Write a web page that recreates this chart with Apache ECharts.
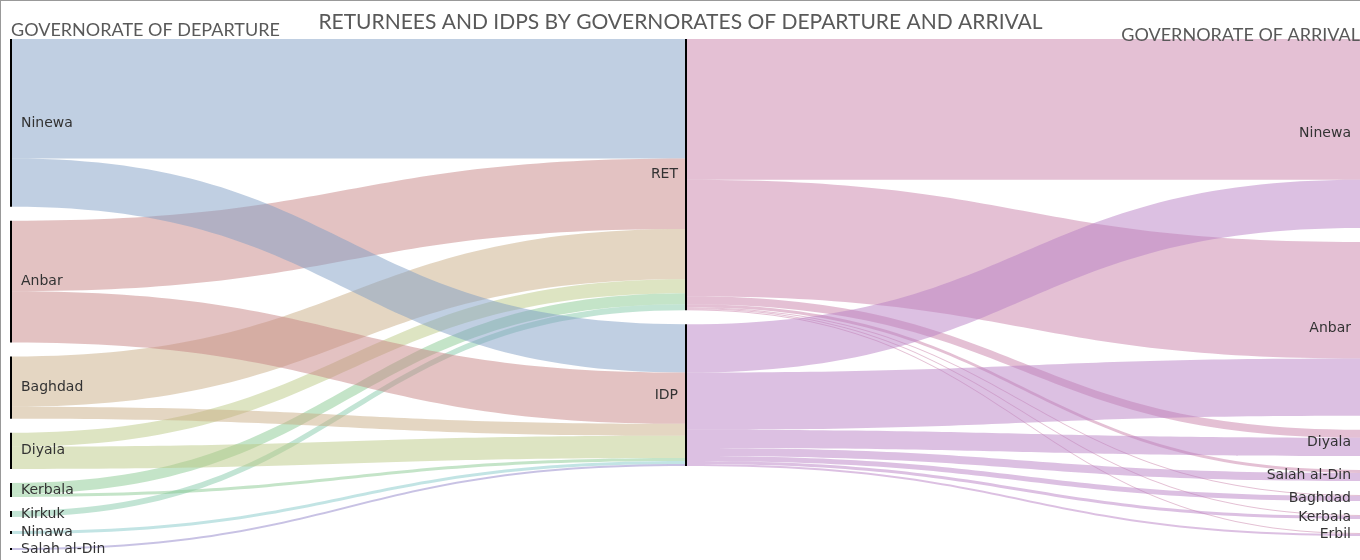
<!DOCTYPE html>
<html style="height: 100%">
<head>
<meta charset="utf-8">
<script src="https://cdn.jsdelivr.net/npm/echarts@6/dist/echarts.min.js"></script>
</head>
<body style="height: 100%; margin: 0">
	<div id="container" style="width:1360px;height:560px;box-sizing:border-box;border-top:1px solid #999;border-left:1px solid #999;"></div>
	<script type="text/javascript">
		// governorates of departure (left column)
		var departures = ['Ninewa', 'Anbar', 'Baghdad', 'Diyala', 'Kerbala', 'Kirkuk', 'Ninawa', 'Salah al-Din'];
		var depColors = ['#819fc5', '#c78585', '#c9ad85', '#bbc985', '#89c991', '#85c9a9', '#85c9c9', '#9185c9'];
		// status (middle column)
		var statuses = ['RET', 'IDP'];
		var statusColors = ['#c981a9', '#b981c5'];
		// governorates of arrival (right column)
		var arrivals = ['Ninewa', 'Anbar', 'Diyala', 'Salah al-Din', 'Baghdad', 'Kerbala', 'Erbil'];

		// flows departure -> status
		var depToRET = [119, 70, 50, 14, 11, 6, 0, 0];
		var depToIDP = [48, 51, 12, 22, 3, 0, 3, 2];
		// flows status -> arrival
		var retToArr = [140, 116, 8, 3, 1, 1, 1];
		var idpToArr = [48, 57, 18, 8, 5, 3, 2];

		var dom = document.getElementById("container");
		var myChart = echarts.init(dom);

		var labelFont = 'DejaVu Sans';
		var nodes = [];
		var links = [];
		departures.forEach(function (d) {
			nodes.push({ name: 'd:' + d, label: { position: 'right', distance: 9 } });
		});
		statuses.forEach(function (s) {
			nodes.push({ name: 's:' + s, label: { position: 'left', distance: 7 } });
		});
		arrivals.forEach(function (a) {
			nodes.push({ name: 'a:' + a, label: { position: 'left', distance: 9 } });
		});
		var flows = [depToRET, depToIDP];
		for (var s = 0; s < statuses.length; s++) {
			for (var i = 0; i < departures.length; i++) {
				if (flows[s][i] > 0) {
					links.push({
						source: 'd:' + departures[i], target: 's:' + statuses[s], value: flows[s][i],
						lineStyle: { color: depColors[i] }
					});
				}
			}
		}
		var outFlows = [retToArr, idpToArr];
		for (var s = 0; s < statuses.length; s++) {
			for (var j = 0; j < arrivals.length; j++) {
				if (outFlows[s][j] > 0) {
					links.push({
						source: 's:' + statuses[s], target: 'a:' + arrivals[j], value: outFlows[s][j],
						lineStyle: { color: statusColors[s] }
					});
				}
			}
		}

		var option = {
			animation: false,
			title: [{
				text: 'RETURNEES AND IDPS BY GOVERNORATES OF DEPARTURE AND ARRIVAL',
				left: 'center', top: 6,
				textStyle: { fontFamily: 'Lato', fontSize: 21, fontWeight: 'normal', color: '#595959' }
			}, {
				text: 'GOVERNORATE OF DEPARTURE',
				left: 5, top: 15,
				textStyle: { fontFamily: 'Lato', fontSize: 18, fontWeight: 'normal', color: '#595959' }
			}, {
				text: 'GOVERNORATE OF ARRIVAL',
				right: -5, top: 20,
				textStyle: { fontFamily: 'Lato', fontSize: 18, fontWeight: 'normal', color: '#595959' }
			}],
			series: [{
				type: 'sankey',
				left: 9, right: -2, top: 38, bottom: 10,
				nodeWidth: 2,
				nodeGap: 14,
				layoutIterations: 0,
				draggable: false,
				emphasis: { disabled: true },
				data: nodes,
				links: links,
				itemStyle: { color: '#000', borderWidth: 0 },
				lineStyle: { opacity: 0.5, curveness: 0.5 },
				label: {
					fontFamily: labelFont, fontSize: 14, color: '#333',
					formatter: function (p) { return p.name.slice(2); }
				}
			}]
		};
		myChart.setOption(option, true);
	</script>
</body>
</html>
